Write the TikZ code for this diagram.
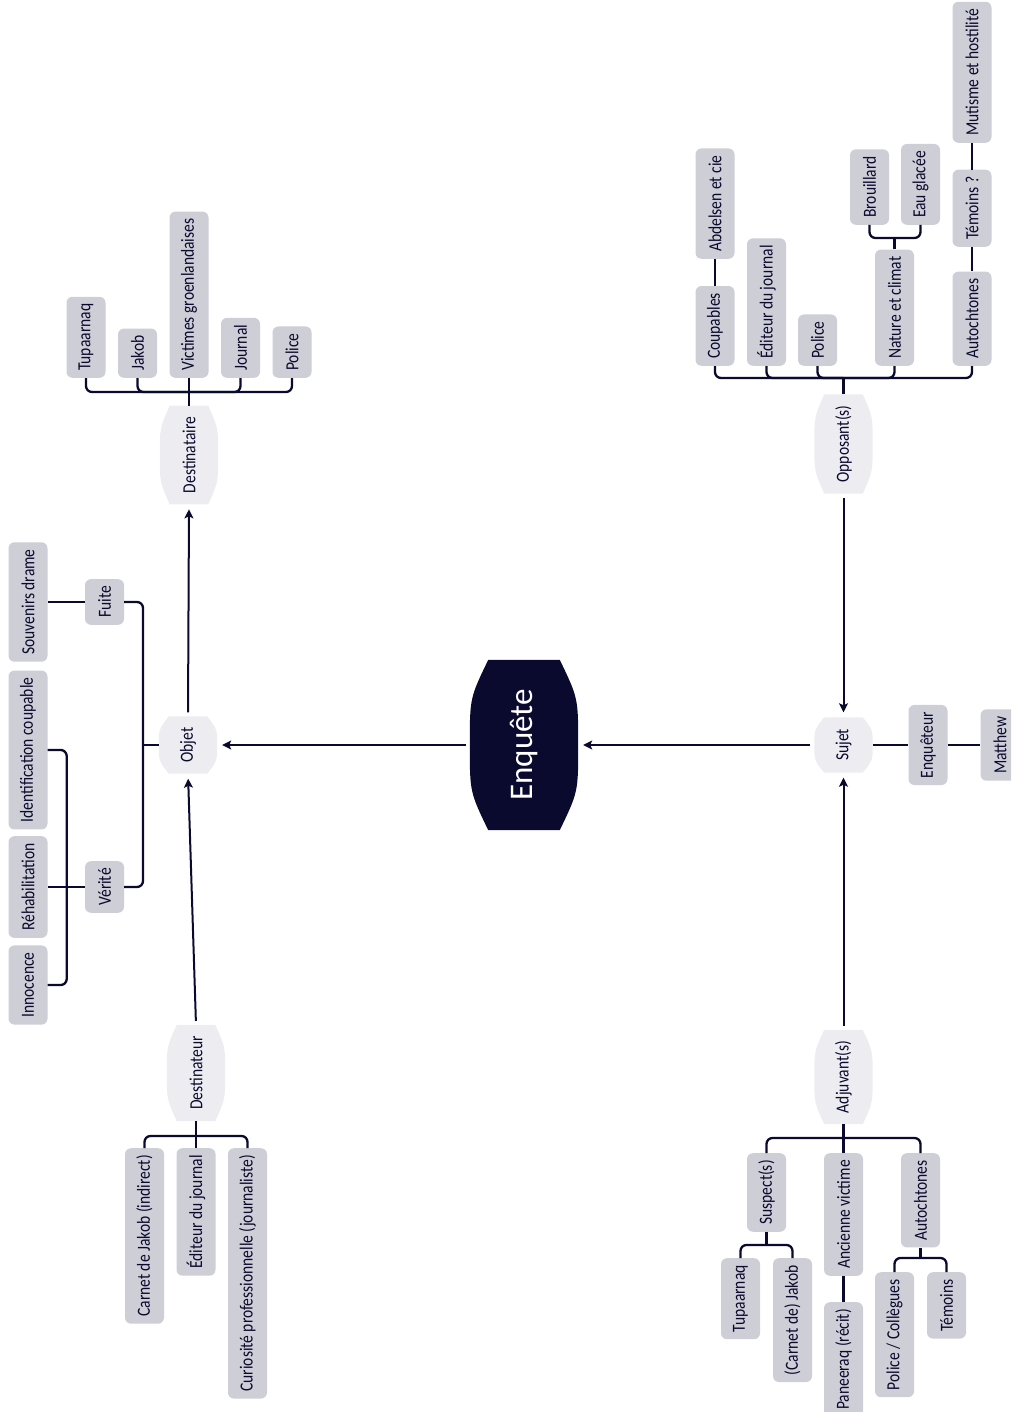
\documentclass[tikz,border=0pt]{standalone}
\usepackage{fontspec}
\setmainfont{Carlito}[FakeStretch=0.84]
\newfontfamily\titlefont{Carlito}
\usetikzlibrary{calc,arrows.meta,backgrounds}
\definecolor{ink}{HTML}{0A0A2E}
\definecolor{leafgray}{HTML}{CDCED6}
\definecolor{barrelgray}{HTML}{EDEDF1}

\begin{document}
\begin{tikzpicture}[x=1pt, y=-1pt,
  leaf/.style={rotate=90, fill=leafgray, rounded corners=6pt, text=ink, font=\fontsize{18.5}{20}\selectfont, inner xsep=7pt, inner ysep=0pt, minimum height=39pt},
  barrel/.style={rotate=90, text=ink, font=\fontsize{18.5}{20}\selectfont, inner xsep=11pt, minimum width=55pt, minimum height=58pt},
  branch/.style={draw=ink, line width=2.3pt, rounded corners=6pt},
  arrowline/.style={draw=ink, line width=2pt, -{Stealth[length=9pt,width=9pt,inset=2pt]}, shorten <=4pt, shorten >=5pt}]
\clip (0,0) rectangle (1011,1412);

% centre
\node[barrel, text=white, font=\titlefont\fontsize{33}{38}\selectfont, minimum width=170pt, minimum height=108pt] (enq) at (524,745) {Enquête};

% objet side
\node[barrel] (obj) at (188,745) {Objet};
\node[barrel] (dest) at (189,455) {Destinataire};
\node[barrel] (dtr) at (196,1073) {Destinateur};
\node[leaf] (fuite) at (104.5,602) {Fuite};
\node[leaf] (verite) at (104.5,887) {Vérité};
\node[leaf] (souv) at (28,602) {Souvenirs drame};
\node[leaf] (rehab) at (28,887) {Réhabilitation};
\node[leaf] (idc) at (28,750) {Identification coupable};
\node[leaf] (inn) at (28,985) {Innocence};

\node[leaf, anchor=west] (tup1) at (86,378) {Tupaarnaq};
\node[leaf, anchor=west] (jak1) at (137.5,378) {Jakob};
\node[leaf, anchor=west] (vict) at (189,378) {Victimes groenlandaises};
\node[leaf, anchor=west] (jour) at (240.5,378) {Journal};
\node[leaf, anchor=west] (pol1) at (292,378) {Police};

\node[leaf, anchor=east] (carnet) at (144.5,1148) {Carnet de Jakob (indirect)};
\node[leaf, anchor=east] (edit1) at (196,1148) {Éditeur du journal};
\node[leaf, anchor=east] (curio) at (247.5,1148) {Curiosité professionnelle (journaliste)};

% sujet side
\node[barrel] (suj) at (843.5,745) {Sujet};
\node[leaf] (enqt) at (928,745) {Enquêteur};
\node[leaf] (mat) at (1000,745) {Matthew};
\node[barrel] (opp) at (843.5,444) {Opposant(s)};
\node[barrel] (adj) at (843.5,1077) {Adjuvant(s)};

\node[leaf, anchor=west] (coup) at (715,366) {Coupables};
\node[leaf, anchor=west] (edit2) at (766.5,366) {Éditeur du journal};
\node[leaf, anchor=west] (pol2) at (817.5,366) {Police};
\node[leaf, anchor=west] (nat) at (894.5,366) {Nature et climat};
\node[leaf, anchor=west] (auto1) at (972,366) {Autochtones};
\node[leaf, anchor=west] (abd) at (715,259) {Abdelsen et cie};
\node[leaf, anchor=west] (brou) at (869.5,225) {Brouillard};
\node[leaf, anchor=west] (eau) at (920.5,225) {Eau glacée};
\node[leaf, anchor=west] (tem1) at (972,247) {Témoins~?};
\node[leaf, anchor=west] (mut) at (972,143) {Mutisme et hostilité};

\node[leaf, anchor=east] (susp) at (766.5,1153) {Suspect(s)};
\node[leaf, anchor=east] (anc) at (843.5,1153) {Ancienne victime};
\node[leaf, anchor=east] (auto2) at (920.5,1153) {Autochtones};
\node[leaf, anchor=east] (tup2) at (740.5,1258) {Tupaarnaq};
\node[leaf, anchor=east] (jak2) at (792.5,1258) {(Carnet de) Jakob};
\node[leaf, anchor=east] (pan) at (843.5,1302) {Paneeraq (récit)};
\node[leaf, anchor=east] (polc) at (894.5,1272) {Police / Collègues};
\node[leaf, anchor=east] (tem2) at (946.5,1272) {Témoins};

% bus points
\coordinate (objbus) at (143,745);
\coordinate (dtbus) at (189,392);
\coordinate (drbus) at (196,1136);
\coordinate (opbus) at (843.5,378);
\coordinate (natbus) at (894.5,238);
\coordinate (adbus) at (843.5,1138);
\coordinate (spbus) at (766.5,1245);
\coordinate (a2bus) at (920.5,1258);

% barrel shapes
\begin{pgfonlayer}{background}
\foreach \n/\c in {enq/ink, suj/barrelgray, obj/barrelgray, dest/barrelgray, dtr/barrelgray, opp/barrelgray, adj/barrelgray}
  \fill[\c] ($(\n.north east)!0.17!(\n.south east)$) -- ($(\n.north east)!0.83!(\n.south east)$)
    .. controls ($(\n.south east)!0.45!(\n.south)$) .. (\n.south)
    .. controls ($(\n.south west)!0.45!(\n.south)$) .. ($(\n.north west)!0.83!(\n.south west)$)
    -- ($(\n.north west)!0.17!(\n.south west)$)
    .. controls ($(\n.north west)!0.45!(\n.north)$) .. (\n.north)
    .. controls ($(\n.north east)!0.45!(\n.north)$) .. ($(\n.north east)!0.17!(\n.south east)$) -- cycle;
\end{pgfonlayer}

% arrows
\path[arrowline] (suj.north) -- (enq.south);
\path[arrowline] (enq.north) -- (obj.south);
\path[arrowline] (opp.west) -- (suj.east);
\path[arrowline] (adj.east) -- (suj.west);
\path[arrowline] (dtr.east) -- (obj.west);
\path[arrowline] (obj.east) -- (dest.west);

% branches
\path[branch] (obj.north) -- (objbus);
\path[branch] (fuite.south) -| (objbus) |- (verite.south);
\path[branch] (fuite.north) -- (souv.south);
\path[branch] (verite.north) -- (rehab.south);
\path[branch] (idc.south) -- ++(19,0) |- (inn.south);
\path[branch] (dest.east) -- (vict.west);
\path[branch] (tup1.west) |- (dtbus) -| (pol1.west);
\path[branch] (jak1.west) |- (dtbus) -| (jour.west);
\path[branch] (dtr.west) -- (edit1.east);
\path[branch] (carnet.east) |- (drbus) -| (curio.east);
\path[branch] (suj.south) -- (enqt.north);
\path[branch] (enqt.south) -- (mat.north);
\path[branch] (opp.east) -- (opbus);
\path[branch] (coup.west) |- (opbus) -| (auto1.west);
\path[branch] (edit2.west) |- (opbus);
\path[branch] (pol2.west) |- (opbus);
\path[branch] (nat.west) |- (opbus);
\path[branch] (coup.east) -- (abd.west);
\path[branch] (nat.east) -- (natbus);
\path[branch] (brou.west) |- (natbus) -| (eau.west);
\path[branch] (auto1.east) -- (tem1.west);
\path[branch] (tem1.east) -- (mut.west);
\path[branch] (adj.west) -- (anc.east);
\path[branch] (susp.east) |- (adbus) -| (auto2.east);
\path[branch] (susp.west) -- (spbus);
\path[branch] (tup2.east) |- (spbus) -| (jak2.east);
\path[branch] (anc.west) -- (pan.east);
\path[branch] (auto2.west) -- (a2bus);
\path[branch] (polc.east) |- (a2bus) -| (tem2.east);
\end{tikzpicture}
\end{document}
